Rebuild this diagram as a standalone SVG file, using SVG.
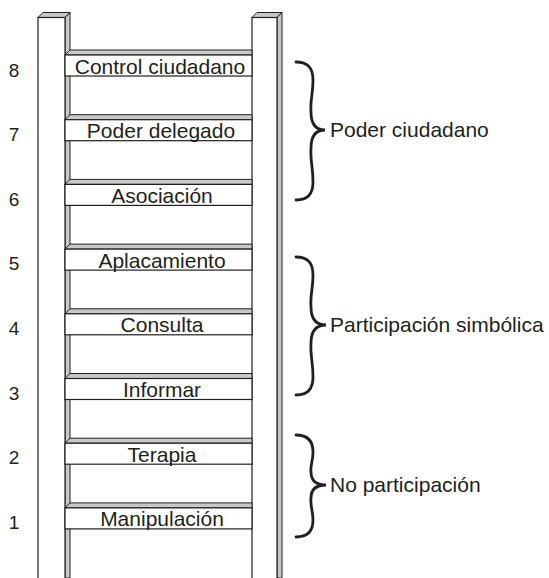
<svg xmlns="http://www.w3.org/2000/svg" width="549" height="578" viewBox="0 0 549 578">
<style>
  .face{fill:#ffffff;stroke:#231f20;stroke-width:1.2}
  .side{fill:#c8c8c8;stroke:#231f20;stroke-width:1}
  .lbl{font-family:"Liberation Sans",Arial,sans-serif;font-size:21px;fill:#231f20}
  .num{font-family:"Liberation Sans",Arial,sans-serif;font-size:19px;fill:#231f20;text-anchor:middle}
  .brace{fill:none;stroke:#231f20;stroke-width:2.8;stroke-linecap:round}
</style>
<rect width="549" height="578" fill="#ffffff"/>
<g id="rails">
  <g id="rail-left">
    <polygon class="side" points="38,17.5 43,12.5 70,12.5 65,17.5"/>
    <polygon class="side" points="65,17.5 70,12.5 70,578 65,578"/>
    <rect class="face" x="38" y="17.5" width="27" height="562"/>
  </g>
  <g id="rail-right">
    <polygon class="side" points="252,17.5 257,12.5 282,12.5 277,17.5"/>
    <polygon class="side" points="277,17.5 282,12.5 282,578 277,578"/>
    <rect class="face" x="252" y="17.5" width="25" height="562"/>
  </g>
</g>
<g id="rung-8">
  <polygon class="side" points="65,55 70,50 252,50 252,55"/>
  <rect class="face" x="65" y="55" width="187" height="21"/>
  <text class="lbl" x="160" y="73.5" text-anchor="middle">Control ciudadano</text>
  <text class="num" x="14" y="77">8</text>
</g>
<g id="rung-7">
  <polygon class="side" points="65,119.7 70,114.7 252,114.7 252,119.7"/>
  <rect class="face" x="65" y="119.7" width="187" height="21"/>
  <text class="lbl" x="161" y="138.2" text-anchor="middle">Poder delegado</text>
  <text class="num" x="14" y="141">7</text>
</g>
<g id="rung-6">
  <polygon class="side" points="65,184.4 70,179.4 252,179.4 252,184.4"/>
  <rect class="face" x="65" y="184.4" width="187" height="21"/>
  <text class="lbl" x="162" y="202.9" text-anchor="middle">Asociación</text>
  <text class="num" x="14" y="205.5">6</text>
</g>
<g id="rung-5">
  <polygon class="side" points="65,249.1 70,244.1 252,244.1 252,249.1"/>
  <rect class="face" x="65" y="249.1" width="187" height="21"/>
  <text class="lbl" x="162" y="267.6" text-anchor="middle">Aplacamiento</text>
  <text class="num" x="14" y="270">5</text>
</g>
<g id="rung-4">
  <polygon class="side" points="65,313.8 70,308.8 252,308.8 252,313.8"/>
  <rect class="face" x="65" y="313.8" width="187" height="21"/>
  <text class="lbl" x="162" y="332.3" text-anchor="middle">Consulta</text>
  <text class="num" x="14" y="335">4</text>
</g>
<g id="rung-3">
  <polygon class="side" points="65,378.5 70,373.5 252,373.5 252,378.5"/>
  <rect class="face" x="65" y="378.5" width="187" height="21"/>
  <text class="lbl" x="162" y="397" text-anchor="middle">Informar</text>
  <text class="num" x="14" y="399.5">3</text>
</g>
<g id="rung-2">
  <polygon class="side" points="65,443.2 70,438.2 252,438.2 252,443.2"/>
  <rect class="face" x="65" y="443.2" width="187" height="21"/>
  <text class="lbl" x="162" y="461.7" text-anchor="middle">Terapia</text>
  <text class="num" x="14" y="464">2</text>
</g>
<g id="rung-1">
  <polygon class="side" points="65,507.9 70,502.9 252,502.9 252,507.9"/>
  <rect class="face" x="65" y="507.9" width="187" height="21"/>
  <text class="lbl" x="162" y="526.4" text-anchor="middle">Manipulación</text>
  <text class="num" x="14" y="529">1</text>
</g>
<g id="connectors">
  <path class="brace" d="M296,62 C308,62 313,68 313,80 C313,95 310,100 311,112 C311,124 316,130 325,130 C316,130 311,136 311,148 C310,160 313,166 313,182 C313,194 308,200 296,200"/>
  <path class="brace" d="M296,257 C308,257 313,263 313,275 C313,290 310,295 311,307 C311,319 316,325 326,325 C316,325 311,331 311,343 C310,355 313,361 313,377 C313,389 308,395 296,395"/>
  <path class="brace" d="M296,435 C308,435 313,441 313,452 C313,462 310,466 311,472 C311,481 316,485 326,485 C316,485 311,489 311,498 C310,506 313,510 313,520 C313,531 308,537 296,537"/>
</g>
<g id="group-poder">
  <text class="lbl" x="330" y="137">Poder ciudadano</text>
</g>
<g id="group-simbolica">
  <text class="lbl" x="330" y="332">Participación simbólica</text>
</g>
<g id="group-no">
  <text class="lbl" x="330" y="492">No participación</text>
</g>
</svg>
